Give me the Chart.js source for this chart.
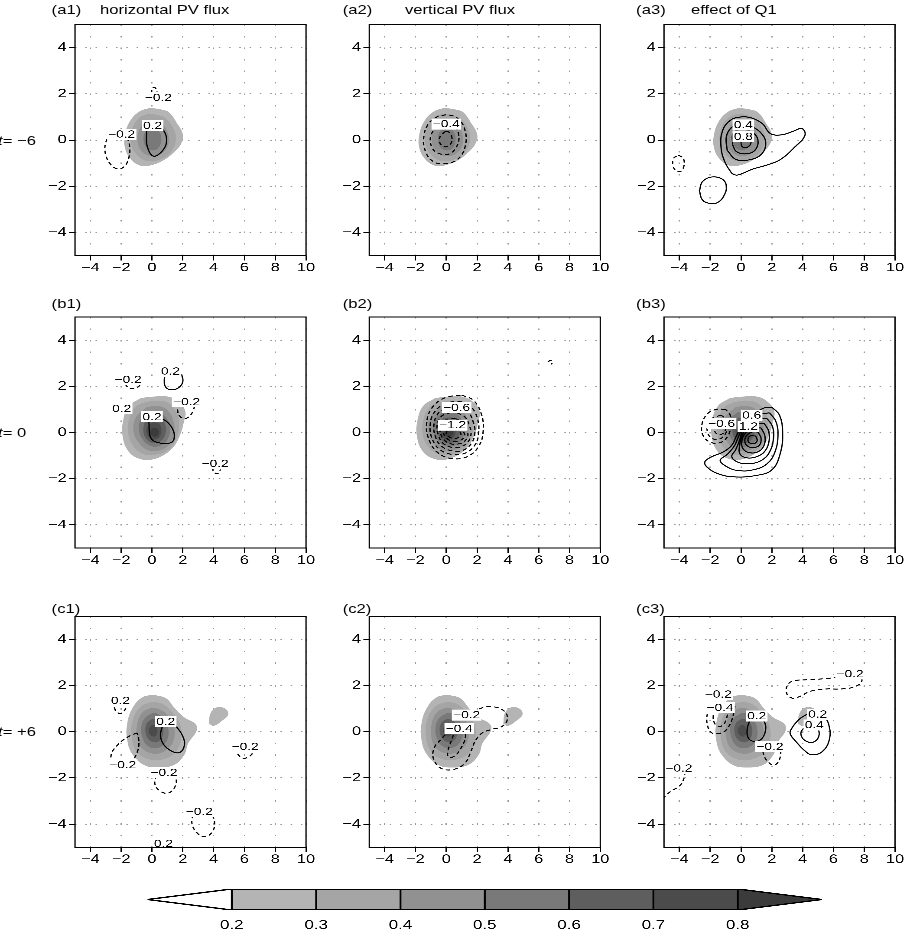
<!DOCTYPE html>
<html lang="en">
<head>
  <meta charset="UTF-8" />
  <title>PV budget composites</title>
  <script src="https://cdn.jsdelivr.net/npm/chart.js"></script>
  <style>
    html, body { margin: 0; padding: 0; background: #fff; }
    body { width: 904px; height: 932px; overflow: hidden; position: relative; }
    /* the original figure is stretched sideways, so everything is laid out narrow and scaled */
    #stage {
      position: absolute; left: 0; top: 0;
      width: 695.4px; height: 932px;
      transform: scaleX(1.3); transform-origin: 0 0;
      font-family: "Liberation Sans", Arial, Helvetica, sans-serif; color: #000;
    }
    #stage canvas { position: absolute; }
    .txt { position: absolute; font-size: 12.8px; line-height: 15px; white-space: nowrap; }
  </style>
</head>

<body>
  <div id="stage"></div>

  <script>
    /* ---------- data ---------- */
    const xTicks = [-4, -2, 0, 2, 4, 6, 8, 10];
    const yTicks = [-4, -2, 0, 2, 4];

    // shading levels (PV) and the colour bar
    const shadeLevels = [0.2, 0.3, 0.4, 0.5, 0.6, 0.7, 0.8];
    const shadeColors = ["#b4b4b4", "#a5a5a5", "#919191", "#797979", "#5e5e5e", "#4b4b4b", "#3b3b3b"];
    const barEnds = [0.1, 0.9];

    const rowTimes = ["\u22126", "0", "+6"];
    const colTitles = ["horizontal PV flux", "vertical PV flux", "effect of Q1"];

    // shaded PV outlines, one set per row: [level, [[x, y], ...]]
    const pvRowA = [
      [0.2, [[0, 1.38], [0.6, 1.32], [1.1, 1.2], [1.6, 0.75], [2.0, 0.25], [1.9, -0.15], [1.4, -0.55], [0.7, -0.9], [-0.1, -1.1], [-0.7, -1.12], [-1.35, -0.85], [-1.75, -0.35], [-1.75, 0.25], [-1.4, 0.85], [-0.85, 1.22], [-0.3, 1.36], [0, 1.38]]],
      [0.3, [[0.1, 1.12], [0.8, 0.98], [1.35, 0.55], [1.55, 0.05], [1.25, -0.5], [0.6, -0.82], [-0.2, -0.92], [-0.9, -0.7], [-1.35, -0.2], [-1.3, 0.45], [-0.85, 0.95], [-0.3, 1.12], [0.1, 1.12]]],
      [0.4, [[0.05, 0.85], [0.6, 0.72], [1.0, 0.35], [1.05, -0.2], [0.65, -0.58], [0, -0.7], [-0.65, -0.5], [-0.95, 0], [-0.75, 0.55], [-0.35, 0.82], [0.05, 0.85]]],
      [0.5, [[0.05, 0.5], [0.45, 0.38], [0.6, 0], [0.4, -0.35], [0, -0.45], [-0.4, -0.3], [-0.55, 0.1], [-0.35, 0.42], [0.05, 0.5]]],
    ];
    const pvRowB = [
      [0.2, [[-0.7, 1.5], [0.2, 1.56], [1.0, 1.56], [1.6, 1.4], [2.15, 0.95], [2.05, 0.4], [1.8, -0.15], [1.4, -0.62], [0.75, -0.98], [-0.1, -1.18], [-0.9, -1.12], [-1.55, -0.8], [-1.9, -0.2], [-1.88, 0.5], [-1.5, 1.15], [-0.7, 1.5]]],
      [0.3, [[-0.5, 1.3], [0.3, 1.38], [1.05, 1.28], [1.6, 0.85], [1.75, 0.3], [1.55, -0.3], [1.05, -0.75], [0.3, -0.95], [-0.5, -0.95], [-1.2, -0.6], [-1.55, 0], [-1.45, 0.65], [-1.05, 1.12], [-0.5, 1.3]]],
      [0.4, [[-0.35, 1.1], [0.35, 1.15], [0.95, 1.0], [1.35, 0.6], [1.45, 0.05], [1.2, -0.45], [0.6, -0.75], [-0.2, -0.78], [-0.85, -0.45], [-1.2, 0.05], [-1.05, 0.65], [-0.35, 1.1]]],
      [0.5, [[-0.2, 0.88], [0.35, 0.9], [0.85, 0.7], [1.15, 0.25], [1.05, -0.25], [0.6, -0.55], [0, -0.6], [-0.55, -0.35], [-0.85, 0.1], [-0.7, 0.6], [-0.2, 0.88]]],
      [0.6, [[0, 0.65], [0.45, 0.62], [0.85, 0.35], [0.85, -0.1], [0.5, -0.4], [0, -0.45], [-0.45, -0.2], [-0.55, 0.25], [-0.35, 0.55], [0, 0.65]]],
      [0.7, [[0.1, 0.45], [0.5, 0.35], [0.6, 0], [0.4, -0.25], [0, -0.3], [-0.3, -0.1], [-0.3, 0.25], [0.1, 0.45]]],
      [0.8, [[0.15, 0.22], [0.4, 0.12], [0.4, -0.1], [0.15, -0.18], [-0.1, -0.05], [-0.05, 0.15], [0.15, 0.22]]],
    ];
    const pvRowC = [
      [0.2, [[0.1, 1.6], [0.9, 1.45], [1.5, 1.0], [2.1, 0.62], [2.8, 0.35], [2.9, 0.05], [2.35, -0.5], [2.1, -1.0], [1.4, -1.45], [0.3, -1.55], [-0.5, -1.45], [-1.25, -1.0], [-1.6, -0.4], [-1.6, 0.4], [-1.2, 1.1], [-0.6, 1.5], [0.1, 1.6]]],
      [0.2, [[3.7, 0.35], [3.8, 0.8], [4.2, 1.05], [4.75, 1.0], [4.95, 0.75], [4.6, 0.5], [4.0, 0.25], [3.7, 0.35]]],
      [0.3, [[0.05, 1.3], [0.7, 1.2], [1.3, 0.85], [1.8, 0.35], [1.9, -0.3], [1.5, -0.9], [0.7, -1.2], [-0.2, -1.2], [-0.95, -0.9], [-1.3, -0.3], [-1.25, 0.5], [-0.7, 1.1], [0.05, 1.3]]],
      [0.4, [[0, 1.05], [0.55, 0.95], [1.1, 0.65], [1.45, 0.15], [1.35, -0.45], [0.8, -0.85], [0.1, -0.95], [-0.6, -0.75], [-0.95, -0.3], [-0.95, 0.35], [-0.6, 0.85], [0, 1.05]]],
      [0.5, [[0, 0.8], [0.35, 0.78], [0.75, 0.55], [1.05, 0.15], [0.95, -0.4], [0.4, -0.7], [-0.2, -0.65], [-0.6, -0.3], [-0.7, 0.2], [-0.45, 0.6], [0, 0.8]]],
      [0.6, [[0, 0.55], [0.3, 0.52], [0.65, 0.3], [0.7, -0.15], [0.35, -0.45], [-0.1, -0.4], [-0.4, -0.1], [-0.35, 0.35], [0, 0.55]]],
      [0.7, [[0, 0.3], [0.2, 0.28], [0.35, 0.05], [0.2, -0.2], [-0.1, -0.15], [-0.2, 0.1], [0, 0.3]]],
    ];

    // contour lines per panel: [value, [[x, y], ...]]  (negative values dashed)
    const a1Lines = [
      [-0.2, [[-0.02, 2.0], [0, 2.2], [0.15, 2.28], [0.3, 2.15], [0.32, 1.95]]],
      [-0.2, [[-1.6, 0.1], [-1.45, -0.3], [-1.5, -0.75], [-1.8, -1.15], [-2.25, -1.25], [-2.75, -1.0], [-3.05, -0.5], [-2.95, 0], [-2.6, 0.4], [-2.3, 0.45]]],
      [0.2, [[0.45, 0.6], [0.75, 0.42], [0.95, 0], [0.7, -0.45], [0.1, -0.7], [-0.3, -0.3], [-0.35, 0.3], [-0.3, 0.55]]],
    ];
    const a1Labels = [[0.41, 1.83, -0.2], [-1.97, 0.25, -0.2], [0.04, 0.62, 0.2]];

    const a2Lines = [
      [-0.2, [[-0.5, 1.05], [-1.1, 0.75], [-1.45, 0.2], [-1.35, -0.5], [-0.8, -0.95], [0, -1.02], [0.8, -0.8], [1.25, -0.2], [1.2, 0.45], [0.8, 0.9], [0.2, 1.08], [-0.5, 1.05]]],
      [-0.4, [[-0.6, 0.6], [-1.0, 0.2], [-0.95, -0.3], [-0.5, -0.58], [0.2, -0.6], [0.7, -0.25], [0.8, 0.25], [0.5, 0.58], [-0.1, 0.7], [-0.6, 0.6]]],
      [-0.6, [[-0.05, 0.38], [-0.4, 0.15], [-0.4, -0.15], [-0.05, -0.3], [0.3, -0.15], [0.35, 0.15], [0.15, 0.35], [-0.05, 0.38]]],
    ];
    const a2Labels = [[0, 0.69, -0.4]];

    const a3Lines = [
      [0.2, [[-0.6, -1.45], [-0.25, -1.52], [0.8, -1.25], [1.7, -1.08], [2.55, -0.85], [3.5, -0.3], [4.15, 0.2], [3.95, 0.5], [3.4, 0.38], [2.6, 0.22], [1.9, 0.28], [1.4, 0.7], [0.7, 0.95], [0, 1.0], [-0.7, 0.85], [-1.2, 0.4], [-1.3, -0.3], [-1.05, -0.95], [-0.6, -1.45]]],
      [0.4, [[-0.9, -0.45], [-0.95, 0.15], [-0.6, 0.55], [0, 0.68], [0.7, 0.58], [1.3, 0.3], [1.6, -0.1], [1.35, -0.6], [0.6, -0.85], [-0.3, -0.85], [-0.9, -0.45]]],
      [0.6, [[-0.55, -0.2], [-0.5, 0.3], [0, 0.45], [0.7, 0.35], [1.1, 0], [0.9, -0.45], [0.3, -0.6], [-0.3, -0.5], [-0.55, -0.2]]],
      [0.8, [[0, -0.15], [0.05, 0.12], [0.45, 0.15], [0.65, -0.1], [0.4, -0.32], [0.1, -0.3], [0, -0.15]]],
      [-0.2, [[-4.07, -0.65], [-3.75, -0.8], [-3.7, -1.1], [-3.9, -1.35], [-4.2, -1.35], [-4.42, -1.1], [-4.38, -0.8], [-4.07, -0.65]]],
      [0.2, [[-2.7, -2.2], [-2.5, -1.8], [-1.9, -1.6], [-1.2, -1.7], [-0.95, -2.0], [-1.1, -2.4], [-1.5, -2.7], [-2.0, -2.75], [-2.5, -2.6], [-2.7, -2.2]]],
    ];
    const a3Labels = [[0.15, 0.65, 0.4], [0.15, 0.14, 0.8]];

    const b1Lines = [
      [-0.2, [[-1.75, 2.1], [-1.5, 1.92], [-1.15, 1.9], [-0.85, 2.0], [-0.75, 2.15]]],
      [0.2, [[1.55, 2.7], [1.9, 2.5], [2.0, 2.2], [1.75, 1.95], [1.3, 1.85], [0.9, 1.95], [0.8, 2.3], [0.9, 2.6]]],
      [-0.2, [[1.65, 1.0], [1.75, 0.75], [2.1, 0.6], [2.5, 0.75], [2.75, 1.1], [2.8, 1.3]]],
      [0.2, [[0.4, 0.65], [0.9, 0.5], [1.3, 0.2], [1.45, -0.2], [1.2, -0.45], [0.3, -0.42], [-0.1, -0.2], [-0.2, 0.45]]],
      [-0.2, [[3.95, -1.5], [4.0, -1.7], [4.25, -1.78], [4.45, -1.6]]],
    ];
    const b1Labels = [[-1.55, 2.29, -0.2], [1.2, 2.65, 0.2], [2.25, 1.33, -0.2], [-1.97, 1.04, 0.2], [0, 0.68, 0.2], [4.1, -1.34, -0.2]];

    const b2Lines = [
      [-0.2, [[1.0, 1.62], [1.75, 1.4], [2.25, 0.85], [2.4, 0.1], [2.1, -0.6], [1.35, -1.05], [0.4, -1.13], [-0.5, -0.9], [-1.1, -0.35], [-1.28, 0.35], [-0.95, 1.05], [-0.1, 1.5], [1.0, 1.62]]],
      [-0.4, [[0.9, 1.35], [1.55, 1.15], [2.0, 0.65], [2.1, 0], [1.85, -0.55], [1.2, -0.9], [0.4, -0.95], [-0.4, -0.75], [-0.9, -0.3], [-1.05, 0.3], [-0.75, 0.9], [0, 1.27], [0.9, 1.35]]],
      [-0.6, [[0.8, 1.1], [1.4, 0.9], [1.75, 0.45], [1.85, -0.05], [1.6, -0.5], [1.05, -0.78], [0.4, -0.8], [-0.3, -0.6], [-0.7, -0.2], [-0.8, 0.35], [-0.5, 0.85], [0.1, 1.07], [0.8, 1.1]]],
      [-0.8, [[0.7, 0.85], [1.2, 0.68], [1.5, 0.3], [1.6, -0.1], [1.35, -0.45], [0.9, -0.63], [0.4, -0.65], [-0.15, -0.5], [-0.5, -0.15], [-0.6, 0.3], [-0.35, 0.68], [0.15, 0.84], [0.7, 0.85]]],
      [-1.0, [[0.6, 0.6], [1.05, 0.45], [1.3, 0.15], [1.4, -0.15], [1.15, -0.4], [0.75, -0.5], [0.35, -0.5], [-0.05, -0.38], [-0.35, -0.1], [-0.4, 0.2], [-0.2, 0.48], [0.2, 0.6], [0.6, 0.6]]],
      [-1.2, [[0.5, 0.38], [0.9, 0.28], [1.1, 0.05], [1.2, -0.15], [0.95, -0.33], [0.6, -0.38], [0.25, -0.35], [-0.05, -0.2], [-0.2, 0.05], [-0.05, 0.28], [0.5, 0.38]]],
      [-1.4, [[0.45, 0.15], [0.8, 0.08], [0.95, -0.08], [0.75, -0.23], [0.4, -0.25], [0.1, -0.15], [0, 0], [0.15, 0.12], [0.45, 0.15]]],
      [-0.2, [[6.6, 3.05], [6.75, 3.12], [6.9, 3.05], [6.8, 2.95]]],
    ];
    const b2Labels = [[0.67, 1.08, -0.6], [0.41, 0.32, -1.2]];

    const b3Lines = [
      [-0.2, [[-1.0, 1.0], [-1.6, 1.0], [-2.2, 0.8], [-2.55, 0.3], [-2.45, -0.15], [-2.0, -0.42], [-1.4, -0.45], [-0.9, -0.2], [-0.65, 0.3], [-0.7, 0.75], [-1.0, 1.0]]],
      [-0.4, [[-1.3, 0.75], [-1.9, 0.6], [-2.2, 0.2], [-2.0, -0.2], [-1.5, -0.3], [-1.05, -0.1], [-0.9, 0.3], [-1.1, 0.65], [-1.3, 0.75]]],
      [-0.6, [[-1.2, 0.45], [-1.6, 0.35], [-1.7, 0.05], [-1.4, -0.1], [-1.05, 0.05], [-1.0, 0.3], [-1.2, 0.45]]],
      [0.2, [[2.0, 1.1], [2.5, 0.75], [2.7, 0], [2.55, -0.9], [2.0, -1.62], [1.0, -1.86], [-0.5, -1.92], [-1.55, -1.77], [-2.2, -1.5], [-2.35, -1.27], [-1.9, -1.05], [-1.15, -0.84], [-0.6, -0.55], [-0.28, -0.12], [0.15, 0.4], [0.8, 0.78], [1.45, 1.05], [2.0, 1.1]]],
      [0.4, [[1.85, 0.85], [2.25, 0.5], [2.4, -0.1], [2.2, -0.85], [1.7, -1.35], [0.9, -1.6], [-0.2, -1.65], [-1.0, -1.45], [-1.35, -1.2], [-0.9, -0.95], [-0.45, -0.6], [-0.15, -0.15], [0.2, 0.3], [0.75, 0.6], [1.3, 0.8], [1.85, 0.85]]],
      [0.6, [[1.7, 0.6], [2.05, 0.25], [2.1, -0.3], [1.85, -0.85], [1.35, -1.2], [0.6, -1.35], [-0.15, -1.3], [-0.6, -1.05], [-0.35, -0.75], [-0.1, -0.35], [0.15, 0.15], [0.6, 0.45], [1.15, 0.62], [1.7, 0.6]]],
      [0.8, [[1.5, 0.4], [1.8, 0.05], [1.8, -0.45], [1.5, -0.85], [1.0, -1.05], [0.4, -1.1], [-0.05, -0.95], [-0.1, -0.6], [0.05, -0.2], [0.3, 0.15], [0.8, 0.38], [1.5, 0.4]]],
      [1.0, [[1.3, 0.2], [1.55, -0.15], [1.5, -0.55], [1.15, -0.82], [0.6, -0.88], [0.15, -0.72], [0.05, -0.4], [0.25, -0.05], [0.7, 0.18], [1.3, 0.2]]],
      [1.2, [[1.1, 0.02], [1.3, -0.25], [1.2, -0.55], [0.85, -0.65], [0.45, -0.6], [0.25, -0.4], [0.35, -0.15], [0.7, 0.02], [1.1, 0.02]]],
      [1.4, [[0.95, -0.15], [1.05, -0.35], [0.85, -0.48], [0.55, -0.45], [0.45, -0.3], [0.6, -0.15], [0.95, -0.15]]],
    ];
    const b3Labels = [[-1.26, 0.39, -0.6], [0.69, 0.75, 0.6], [0.48, 0.27, 1.2]];

    const c1Lines = [
      [-0.2, [[-2.45, 1.05], [-2.3, 0.85], [-2.0, 0.8], [-1.75, 0.95], [-1.7, 1.1]]],
      [-0.2, [[-0.95, -0.05], [-1.5, -0.2], [-2.2, -0.55], [-2.65, -1.0], [-2.5, -1.35], [-1.9, -1.5], [-1.35, -1.3], [-1.0, -0.95], [-0.85, -0.5], [-0.95, -0.05]]],
      [0.2, [[1.2, 0.4], [1.6, 0.2], [2.0, -0.2], [2.1, -0.6], [1.8, -0.9], [1.3, -0.85], [0.75, -0.55], [0.55, -0.15], [0.7, 0.3]]],
      [-0.2, [[5.45, -0.7], [5.6, -1.0], [6.0, -1.15], [6.45, -1.0], [6.6, -0.75]]],
      [-0.2, [[0.25, -1.9], [0.2, -2.3], [0.6, -2.6], [1.1, -2.65], [1.55, -2.3], [1.55, -1.95]]],
      [-0.2, [[2.65, -3.6], [2.6, -4.0], [2.95, -4.4], [3.45, -4.55], [3.95, -4.3], [4.05, -3.85], [3.85, -3.55]]],
      [-0.2, [[1.05, -4.8], [1.25, -4.9], [1.4, -5.05]]],
    ];
    const c1Labels = [[-2.05, 1.34, 0.2], [-1.9, -1.44, -0.2], [0.89, 0.43, 0.2], [6.05, -0.65, -0.2], [0.78, -1.77, -0.2], [3.07, -3.46, -0.2], [0.74, -4.85, 0.2]];

    const c2Lines = [
      [-0.2, [[1.9, 0.75], [2.2, 1.0], [3.05, 1.08], [3.8, 0.87], [3.95, 0.5], [3.6, 0.22], [2.95, 0.1], [2.3, -0.07], [1.86, -0.43], [1.55, -0.94], [1.2, -1.37], [0.55, -1.62], [-0.3, -1.6], [-0.84, -1.15], [-0.75, -0.65], [-0.3, -0.3], [0, -0.07]]],
      [-0.4, [[0.6, 0.1], [0.35, -0.35], [0.1, -0.85], [0.15, -1.1], [0.55, -1.05], [1.0, -0.65], [1.25, -0.2], [1.1, 0.1]]],
    ];
    const c2Labels = [[1.32, 0.72, -0.2], [0.84, 0.14, -0.4]];

    const c3Lines = [
      [-0.2, [[3.4, 1.42], [3.0, 1.6], [3.0, 2.0], [3.4, 2.2], [4.5, 2.25], [5.5, 2.3], [6.4, 2.38], [7.0, 2.5], [7.6, 2.45], [7.85, 2.2], [7.4, 1.95], [6.5, 1.85], [5.5, 1.85], [4.5, 1.75], [3.9, 1.55], [3.4, 1.42]]],
      [-0.2, [[-0.4, 1.1], [-0.6, 0.5], [-1.0, 0.05], [-1.4, -0.07], [-1.9, -0.05], [-2.2, 0.35], [-2.15, 0.85], [-1.8, 1.3], [-1.45, 1.62]]],
      [-0.4, [[-0.85, 1.0], [-0.95, 0.55], [-1.25, 0.25], [-1.65, 0.3], [-1.8, 0.7], [-1.55, 1.1], [-1.1, 1.15], [-0.85, 1.0]]],
      [0.2, [[0.6, 0.55], [0.4, 0.1], [0.5, -0.3], [0.9, -0.42], [1.35, -0.3], [1.6, 0.1], [1.5, 0.45], [1.2, 0.6]]],
      [-0.2, [[1.5, -0.6], [1.45, -0.95], [1.75, -1.3], [2.15, -1.45], [2.5, -1.2], [2.6, -0.7]]],
      [0.2, [[4.4, 0.8], [3.8, 0.55], [3.3, 0.15], [3.2, -0.1], [3.6, -0.45], [4.1, -0.8], [4.6, -1.0], [5.3, -0.85], [5.75, -0.3], [5.7, 0.3], [5.4, 0.65], [4.9, 0.8], [4.4, 0.8]]],
      [0.4, [[4.5, 0.3], [4.0, 0.1], [3.9, -0.15], [4.2, -0.4], [4.7, -0.45], [5.05, -0.2], [5.0, 0.15], [4.8, 0.3]]],
      [-0.2, [[-5.1, -2.9], [-4.6, -2.6], [-4.0, -2.35], [-3.75, -2.1], [-3.65, -1.85]]],
    ];
    const c3Labels = [[-1.47, 1.62, -0.2], [-1.36, 1.05, -0.4], [1.02, 0.68, 0.2], [1.88, -0.65, -0.2], [4.98, 0.75, 0.2], [4.76, 0.29, 0.4], [7.08, 2.5, -0.2], [-4.03, -1.59, -0.2]];

    /* ---------- layout ---------- */
    const SX = 1.3;                       // horizontal stretch of the figure
    const plotLeft = [75, 369.3, 664];    // page px
    const plotTop = [24.5, 317, 616.2];
    const PW = 231, PH = 231;
    const Y_AXIS_W = 38, X_AXIS_H = 24;
    const FONT = '"Liberation Sans", Arial, Helvetica, sans-serif';

    const stage = document.getElementById("stage");

    function addText(html, left, top) {
      const d = document.createElement("div");
      d.className = "txt";
      d.style.left = left + "px";
      d.style.top = top + "px";
      d.innerHTML = html;
      stage.appendChild(d);
    }

    function addCanvas(left, top, w, h) {
      const cv = document.createElement("canvas");
      cv.width = w; cv.height = h;
      cv.style.left = left + "px"; cv.style.top = top + "px";
      cv.style.width = w + "px"; cv.style.height = h + "px";
      stage.appendChild(cv);
      return cv;
    }

    const tickFmt = (v) => (v < 0 ? "\u2212" + (-v) : String(v));
    const levelFmt = (v) => (v < 0 ? "\u2212" : "") + Math.abs(v).toFixed(1);
    const pts = (arr) => arr.map((p) => ({ x: p[0], y: p[1] }));
    const colorOf = (lev) => shadeColors[shadeLevels.indexOf(lev)];

    // box round the plot area
    const framePlugin = {
      id: "frame",
      afterDraw(chart) {
        const { ctx, chartArea: a } = chart;
        ctx.save();
        ctx.strokeStyle = "#000";
        ctx.lineWidth = 1;
        ctx.strokeRect(a.left, a.top, a.right - a.left, a.bottom - a.top);
        ctx.restore();
      },
    };

    // contour labels in white boxes
    function labelPlugin(items) {
      return {
        id: "contourLabels",
        afterDatasetsDraw(chart) {
          const { ctx, scales } = chart;
          ctx.save();
          ctx.font = "10.5px " + FONT;
          ctx.textAlign = "center";
          ctx.textBaseline = "middle";
          items.forEach(([vx, vy, v]) => {
            const px = scales.x.getPixelForValue(vx);
            const py = scales.y.getPixelForValue(vy);
            const s = levelFmt(v);
            const w = ctx.measureText(s).width + 2;
            ctx.fillStyle = "#fff";
            ctx.fillRect(px - w / 2, py - 5.5, w, 11);
            ctx.fillStyle = "#000";
            ctx.fillText(s, px, py + 0.5);
          });
          ctx.restore();
        },
      };
    }

    function makePanel(row, col, shade, lines, labels) {
      const left0 = plotLeft[col] / SX, top0 = plotTop[row];
      const cl = Math.floor(left0) - 40, ct = Math.floor(top0) - 10;
      const W = 235, H = 268;
      const padL = left0 - cl - Y_AXIS_W;
      const padT = top0 - ct;
      const padR = W - padL - Y_AXIS_W - PW / SX;
      const padB = H - padT - PH - X_AXIS_H;
      const cv = addCanvas(cl, ct, W, H);

      const datasets = [];
      shade.forEach(([lev, p]) => {
        datasets.push({
          data: pts(p), showLine: true, fill: "shape",
          backgroundColor: colorOf(lev), borderColor: "rgba(0,0,0,0)", borderWidth: 0,
          pointRadius: 0, tension: 0.4, order: 100 - Math.round(lev * 10),
        });
      });
      lines.forEach(([v, p]) => {
        datasets.push({
          data: pts(p), showLine: true, fill: false,
          borderColor: "#000", borderWidth: 1, borderDash: v < 0 ? [3.5, 2.5] : [],
          pointRadius: 0, tension: 0.4, order: 0,
        });
      });

      new Chart(cv, {
        type: "scatter",
        data: { datasets },
        options: {
          responsive: false,
          animation: false,
          events: [],
          devicePixelRatio: 3,
          layout: { autoPadding: false, padding: { left: padL, right: padR, top: padT, bottom: padB } },
          plugins: { legend: { display: false }, tooltip: { enabled: false } },
          scales: {
            x: {
              type: "linear", min: -5, max: 10,
              afterBuildTicks: (s) => { s.ticks = xTicks.map((v) => ({ value: v })); },
              afterFit: (s) => { s.height = X_AXIS_H; s.paddingLeft = 0; s.paddingRight = 0; },
              ticks: { callback: tickFmt, color: "#000", font: { family: FONT, size: 12.5 }, padding: 0, maxRotation: 0, autoSkip: false },
              grid: { color: "#9a9a9a", lineWidth: 1, tickColor: "#000", tickLength: 5, tickWidth: 1 },
              border: { display: false, dash: [1.5, 10] },
            },
            y: {
              type: "linear", min: -5, max: 5,
              afterBuildTicks: (s) => { s.ticks = yTicks.map((v) => ({ value: v })); },
              afterFit: (s) => { s.width = Y_AXIS_W; s.paddingTop = 0; s.paddingBottom = 0; },
              ticks: { callback: tickFmt, color: "#000", font: { family: FONT, size: 12.5 }, padding: 1.8, autoSkip: false },
              grid: { color: "#9a9a9a", lineWidth: 1, tickColor: "#000", tickLength: 4.6, tickWidth: 1 },
              border: { display: false, dash: [1.2, 6.7] },
            },
          },
        },
        plugins: [framePlugin, labelPlugin(labels)],
      });
    }

    /* ---------- panels ---------- */
    const shadeRows = [pvRowA, pvRowB, pvRowC];
    const panelLines = [[a1Lines, a2Lines, a3Lines], [b1Lines, b2Lines, b3Lines], [c1Lines, c2Lines, c3Lines]];
    const panelLabels = [[a1Labels, a2Labels, a3Labels], [b1Labels, b2Labels, b3Labels], [c1Labels, c2Labels, c3Labels]];

    for (let r = 0; r < 3; r++) {
      for (let c = 0; c < 3; c++) {
        makePanel(r, c, shadeRows[r], panelLines[r][c], panelLabels[r][c]);
      }
    }

    // panel tags, column titles, row times
    const tagTop = [2, 295.5, 600.5];
    const tagLeft = [39.7, 263.6, 489.3];
    const titleLeft = [76.9, 311.5, 531.5];
    const rowMid = [140, 432.3, 731.7];
    ["a", "b", "c"].forEach((k, r) => {
      for (let c = 0; c < 3; c++) addText("(" + k + (c + 1) + ")", tagLeft[c], tagTop[r]);
      addText("<i>t</i>= " + rowTimes[r], -1.5, rowMid[r] - 7.5);
    });
    colTitles.forEach((t, c) => addText(t, titleLeft[c], tagTop[0]));

    /* ---------- colour bar ---------- */
    const cbLeft = 100, cbTop = 880, cbW = 560, cbH = 52;
    const cbPadL = 147.5 / SX - cbLeft;
    const cbPadR = cbW - cbPadL - (822 - 147.5) / SX;
    const cbCanvas = addCanvas(cbLeft, cbTop, cbW, cbH);

    const barSets = [];
    for (let i = 0; i < shadeLevels.length - 1; i++) {
      const a = shadeLevels[i], b = shadeLevels[i + 1];
      barSets.push({
        data: pts([[a, 0], [b, 0], [b, 1], [a, 1], [a, 0]]),
        backgroundColor: shadeColors[i],
      });
    }
    const lo = shadeLevels[0], hi = shadeLevels[shadeLevels.length - 1];
    barSets.push({ data: pts([[lo, 0], [lo, 1], [barEnds[0], 0.5], [lo, 0]]), backgroundColor: "#fff" });
    barSets.push({ data: pts([[hi, 0], [barEnds[1], 0.5], [hi, 1], [hi, 0]]), backgroundColor: shadeColors[shadeColors.length - 1] });
    barSets.forEach((d) => Object.assign(d, {
      showLine: true, fill: "shape", borderColor: "#000", borderWidth: 1.4,
      pointRadius: 0, tension: 0, borderJoinStyle: "miter",
    }));

    new Chart(cbCanvas, {
      type: "scatter",
      data: { datasets: barSets },
      options: {
        responsive: false,
        animation: false,
        events: [],
        devicePixelRatio: 3,
        layout: { autoPadding: false, padding: { left: cbPadL, right: cbPadR, top: 9, bottom: 0 } },
        plugins: { legend: { display: false }, tooltip: { enabled: false } },
        scales: {
          x: {
            type: "linear", min: barEnds[0], max: barEnds[1],
            afterBuildTicks: (s) => { s.ticks = shadeLevels.map((v) => ({ value: v })); },
            afterFit: (s) => { s.height = 22; s.paddingLeft = 0; s.paddingRight = 0; },
            ticks: { callback: (v) => v.toFixed(1), color: "#000", font: { family: FONT, size: 13 }, padding: 7.5, maxRotation: 0, autoSkip: false },
            grid: { display: false, drawTicks: false },
            border: { display: false },
          },
          y: { type: "linear", min: 0, max: 1, display: false },
        },
      },
    });
  </script>
</body>

</html>
